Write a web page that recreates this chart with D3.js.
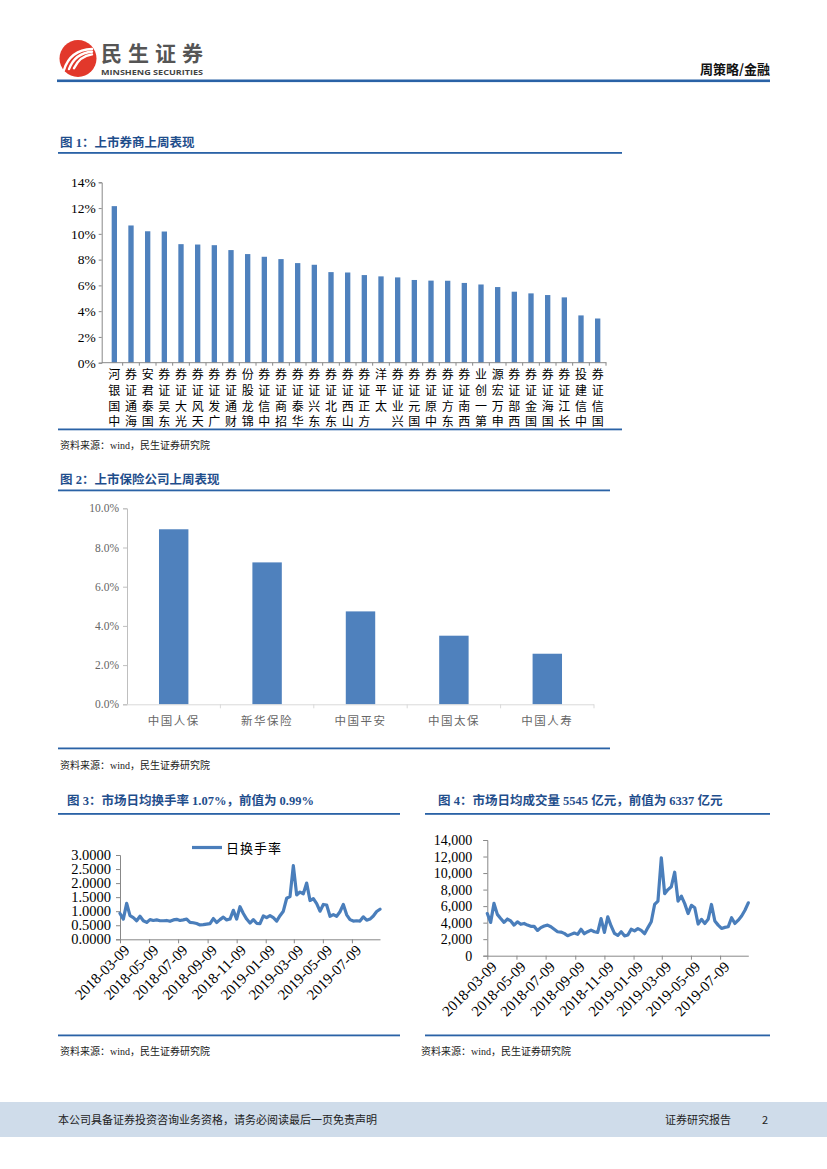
<!DOCTYPE html>
<html>
<head>
<meta charset="utf-8">
<title>周策略/金融</title>
<script src="https://cdn.jsdelivr.net/npm/d3@7"></script>
<style>
  body { margin: 0; background: #fff; }
  svg { display: block; }
  .serif { font-family: "Liberation Serif", "Noto Sans CJK SC", serif; }
  .cjk { font-family: "Noto Sans CJK SC", sans-serif; }
  .vert { writing-mode: vertical-rl; text-orientation: upright; }
</style>
</head>
<body>
<svg id="page" width="827" height="1169"></svg>
<script>
// ---- 数据 ----
// 图1 上市券商上周涨跌幅 (%)
var brokerNames = ["中国银河", "海通证券", "国泰君安", "东吴证券", "光大证券", "天风证券", "广发证券", "财通证券",
  "锦龙股份", "中信证券", "招商证券", "华泰证券", "东兴证券", "东北证券", "山西证券", "方正证券", "太平洋",
  "兴业证券", "国元证券", "中原证券", "东方证券", "西南证券", "第一创业", "申万宏源", "西部证券", "国金证券",
  "国海证券", "长江证券", "中信建投", "国信证券"];
var brokerValues = [12.15, 10.65, 10.2, 10.18, 9.2, 9.17, 9.12, 8.74, 8.43, 8.22, 8.04, 7.73, 7.6, 7.03, 7.0,
  6.8, 6.7, 6.62, 6.42, 6.37, 6.36, 6.19, 6.07, 5.87, 5.51, 5.38, 5.25, 5.07, 3.67, 3.43];
var brokerTicks = [0, 2, 4, 6, 8, 10, 12, 14];

// 图2 上市保险公司上周表现 (%)
var insurerNames = ["中国人保", "新华保险", "中国平安", "中国太保", "中国人寿"];
var insurerValues = [8.93, 7.24, 4.74, 3.5, 2.58];
var insurerTicks = [0, 2, 4, 6, 8, 10];

// 图3/图4 周度数据，起始日期
var weekStart = "2018-03-09";
var weekEnd = "2019-09-06";
var turnover = [0.92, 0.72, 1.28, 0.84, 0.77, 0.66, 0.82, 0.66, 0.60, 0.70,
  0.67, 0.69, 0.66, 0.66, 0.67, 0.64, 0.69, 0.71, 0.67, 0.69,
  0.72, 0.60, 0.59, 0.56, 0.51, 0.52, 0.54, 0.56, 0.74, 0.60,
  0.70, 0.79, 0.69, 0.72, 1.03, 0.72, 1.16, 0.92, 0.72, 0.58,
  0.70, 0.57, 0.56, 0.83, 0.77, 0.84, 0.77, 0.65, 0.84, 1.00,
  1.46, 1.52, 2.62, 1.58, 1.68, 1.62, 2.00, 1.38, 1.45, 1.27,
  1.00, 1.24, 1.22, 0.82, 0.88, 0.82, 0.98, 1.24, 0.87, 0.70,
  0.65, 0.66, 0.65, 0.80, 0.68, 0.72, 0.83, 0.99, 1.07];
var volume = [5100, 4030, 6330, 5000, 4500, 4030, 4440, 4200, 3700, 4100,
  3800, 3900, 3700, 3550, 3550, 3060, 3400, 3600, 3700, 3500,
  3200, 2900, 2860, 2700, 2420, 2580, 2740, 2580, 3200, 2660,
  2900, 3100, 2900, 2820, 4500, 2820, 4700, 3600, 2700, 2450,
  2900, 2400, 2500, 3200, 3000, 3270, 3060, 2660, 3400, 4100,
  6200, 6600, 11850, 7500, 8000, 8350, 10100, 6600, 7200, 6300,
  5100, 6100, 5800, 3830, 4400, 3900, 4400, 6200, 4200, 3700,
  3300, 3430, 3500, 4600, 3900, 4300, 4800, 5500, 6400];
var dateTicks = ["2018-03-09", "2018-05-09", "2018-07-09", "2018-09-09", "2018-11-09",
  "2019-01-09", "2019-03-09", "2019-05-09", "2019-07-09"];
var turnoverTicks = [0, 0.5, 1, 1.5, 2, 2.5, 3];
var volumeTicks = [0, 2000, 4000, 6000, 8000, 10000, 12000, 14000];

var blue = "#4f81bd";
var lineBlue = "#4a7ebb";
var ruleBlue = "#2a62a6";
var titleBlue = "#1f4e8c";

var svg = d3.select("#page");
var parse = d3.timeParse("%Y-%m-%d");
var weekDates = turnover.map(function(d, i) { return d3.timeDay.offset(parse(weekStart), i * 7); });

// ---- 页眉 ----
var logo = svg.append("g");
logo.append("circle").attr("cx", 78).attr("cy", 58.5).attr("r", 18.5).attr("fill", "#e2382b");
[[0, 0], [5, 3], [10, 6]].forEach(function(o) {
  logo.append("path")
    .attr("d", "M" + (64 + o[0]) + "," + (70 - o[1] * 0.3) + " Q" + (70 + o[0]) + "," + (50 + o[1]) + " " + (92) + "," + (49 + o[1] * 0.9))
    .attr("stroke", "#fff").attr("stroke-width", 2.4).attr("fill", "none").attr("stroke-linecap", "round");
});
svg.append("text").attr("class", "cjk").attr("x", 101).attr("y", 60.5)
  .attr("font-size", 21).attr("font-weight", "bold").attr("fill", "#555").attr("textLength", 102)
  .text("民生证券");
svg.append("text").attr("x", 101).attr("y", 75)
  .attr("font-family", "'Open Sans', 'DejaVu Sans', sans-serif").attr("font-size", 7.8)
  .attr("font-weight", "bold").attr("fill", "#444").attr("textLength", 102).attr("lengthAdjust", "spacingAndGlyphs")
  .text("MINSHENG SECURITIES");
svg.append("text").attr("class", "cjk").attr("x", 770).attr("y", 74).attr("text-anchor", "end")
  .attr("font-size", 13).attr("font-weight", "bold").attr("fill", "#111").text("周策略/金融");
svg.append("rect").attr("x", 57).attr("y", 79.5).attr("width", 713).attr("height", 2.6).attr("fill", ruleBlue);

function figTitle(x, y, text) {
  svg.append("text").attr("class", "serif").attr("x", x).attr("y", y)
    .attr("font-size", 12.5).attr("font-weight", "bold").attr("fill", titleBlue).text(text);
}
function rule(x1, x2, y, w) {
  svg.append("rect").attr("x", x1).attr("y", y).attr("width", x2 - x1).attr("height", w || 1.8).attr("fill", ruleBlue);
}
function source(x, y) {
  svg.append("text").attr("class", "serif").attr("x", x).attr("y", y)
    .attr("font-size", 10).attr("fill", "#222").text("资料来源：wind，民生证券研究院");
}

// ---- 图1 ----
figTitle(60, 147, "图 1：上市券商上周表现");
rule(58, 622, 152);
(function() {
  var y = d3.scaleLinear().domain([0, 14]).range([362.7, 182.3]);
  var x = d3.scaleBand().domain(brokerNames).range([106, 606]).paddingInner(0.68).paddingOuter(0.34);
  var g = svg.append("g");
  var yAxis = g.append("g").attr("transform", "translate(101.7,0)")
    .call(d3.axisLeft(y).tickValues(brokerTicks).tickFormat(function(d) { return d + "%"; }).tickSize(3).tickPadding(3));
  yAxis.selectAll("text").attr("class", "serif").attr("font-size", 13.5).attr("fill", "#000");
  yAxis.selectAll("line, path").attr("stroke", "#888");
  g.selectAll("rect.bar").data(brokerValues).enter().append("rect").attr("class", "bar")
    .attr("x", function(d, i) { return x(brokerNames[i]); })
    .attr("y", function(d) { return y(d); })
    .attr("width", x.bandwidth())
    .attr("height", function(d) { return y(0) - y(d); })
    .attr("fill", blue);
  g.append("line").attr("x1", 101.7).attr("x2", 606.5).attr("y1", y(0)).attr("y2", y(0)).attr("stroke", "#888");
  g.selectAll("line.tk").data(brokerNames).enter().append("line").attr("class", "tk")
    .attr("x1", function(d) { return x(d) + x.bandwidth() / 2 + x.step() / 2; })
    .attr("x2", function(d) { return x(d) + x.bandwidth() / 2 + x.step() / 2; })
    .attr("y1", y(0)).attr("y2", y(0) + 3).attr("stroke", "#888");
  // 竖排标签：自下而上读，末字靠近坐标轴
  g.selectAll("text.lab").data(brokerNames).enter().append("text").attr("class", "lab cjk vert")
    .attr("x", function(d) { return x(d) + x.bandwidth() / 2; })
    .attr("y", 368.5)
    .attr("font-size", 12).attr("letter-spacing", 3.8).attr("fill", "#000")
    .text(function(d) { return d.split("").reverse().join(""); });
})();
rule(58, 622, 428.5);
source(60, 449);

// ---- 图2 ----
figTitle(60, 484, "图 2：上市保险公司上周表现");
rule(58, 610, 489.5);
(function() {
  var y = d3.scaleLinear().domain([0, 10]).range([704.3, 508.3]);
  var x = d3.scaleBand().domain(insurerNames).range([127, 594]).paddingInner(0.685).paddingOuter(0.3425);
  var g = svg.append("g");
  var yAxis = g.append("g").attr("transform", "translate(127,0)")
    .call(d3.axisLeft(y).tickValues(insurerTicks).tickFormat(function(d) { return d.toFixed(1) + "%"; }).tickSize(4).tickPadding(4));
  yAxis.selectAll("text").attr("class", "serif").attr("font-size", 11.5).attr("fill", "#666");
  yAxis.selectAll("line, path").attr("stroke", "#bfbfbf");
  g.selectAll("rect.bar").data(insurerValues).enter().append("rect").attr("class", "bar")
    .attr("x", function(d, i) { return x(insurerNames[i]); })
    .attr("y", function(d) { return y(d); })
    .attr("width", x.bandwidth())
    .attr("height", function(d) { return y(0) - y(d); })
    .attr("fill", blue);
  g.append("line").attr("x1", 127).attr("x2", 594).attr("y1", y(0) + 0.5).attr("y2", y(0) + 0.5).attr("stroke", "#d9d9d9");
  g.selectAll("line.tk").data(insurerNames).enter().append("line").attr("class", "tk")
    .attr("x1", function(d) { return x(d) + x.bandwidth() / 2 + x.step() / 2; })
    .attr("x2", function(d) { return x(d) + x.bandwidth() / 2 + x.step() / 2; })
    .attr("y1", y(0)).attr("y2", y(0) + 4).attr("stroke", "#d9d9d9");
  g.selectAll("text.lab").data(insurerNames).enter().append("text").attr("class", "lab cjk")
    .attr("x", function(d) { return x(d) + x.bandwidth() / 2; }).attr("y", 725)
    .attr("text-anchor", "middle").attr("font-size", 11.5).attr("fill", "#666").attr("letter-spacing", 1.5)
    .text(function(d) { return d; });
})();
rule(58, 610, 747.5);
source(60, 769);

// ---- 图3 / 图4 折线 ----
function lineChart(opt) {
  var x = d3.scaleTime().domain([parse(weekStart), parse(weekEnd)]).range([opt.x0, opt.x1]);
  var y = d3.scaleLinear().domain(opt.domain).range([opt.y0, opt.y1]);
  var g = svg.append("g");
  var yAxis = g.append("g").attr("transform", "translate(" + opt.x0 + ",0)")
    .call(d3.axisLeft(y).tickValues(opt.ticks).tickFormat(opt.fmt).tickSize(4).tickPadding(opt.pad));
  yAxis.selectAll("text").attr("class", "serif").attr("font-size", opt.yFont).attr("fill", "#000");
  yAxis.selectAll("line, path").attr("stroke", "#888");
  var xAxis = g.append("g").attr("transform", "translate(0," + opt.y0 + ")")
    .call(d3.axisBottom(x).tickValues(dateTicks.map(parse)).tickFormat(d3.timeFormat("%Y-%m-%d")).tickSize(4).tickSizeOuter(0));
  xAxis.selectAll("line, path").attr("stroke", "#888");
  xAxis.selectAll("text").attr("class", "serif").attr("font-size", 15).attr("fill", "#000")
    .attr("text-anchor", "end").attr("dy", 0)
    .attr("transform", "translate(5,7) rotate(-45)");
  g.append("path").datum(opt.values)
    .attr("fill", "none").attr("stroke", lineBlue).attr("stroke-width", 3.2)
    .attr("stroke-linejoin", "round").attr("stroke-linecap", "round")
    .attr("d", d3.line().x(function(d, i) { return x(weekDates[i]); }).y(function(d) { return y(d); }));
  return g;
}

figTitle(67, 805, "图 3：市场日均换手率 1.07%，前值为 0.99%");
rule(58, 400, 813);
lineChart({ x0: 120, x1: 380, y0: 939.3, y1: 855, domain: [0, 3], ticks: turnoverTicks,
  fmt: d3.format(".4f"), values: turnover, yFont: 14.5, pad: 5 });
svg.append("line").attr("x1", 192).attr("x2", 222).attr("y1", 847.5).attr("y2", 847.5)
  .attr("stroke", lineBlue).attr("stroke-width", 3.2);
svg.append("text").attr("class", "cjk").attr("x", 226).attr("y", 852.5)
  .attr("font-size", 13).attr("fill", "#000").attr("letter-spacing", 1).text("日换手率");
rule(58, 400, 1034.5);
source(60, 1055);

figTitle(438, 805, "图 4：市场日均成交量 5545 亿元，前值为 6337 亿元");
rule(425, 770, 813);
lineChart({ x0: 487.3, x1: 748.3, y0: 955.7, y1: 840, domain: [0, 14000], ticks: volumeTicks,
  fmt: d3.format(","), values: volume, yFont: 14, pad: 11 });
rule(425, 770, 1034.5);
source(421, 1055);

// ---- 页脚 ----
svg.append("rect").attr("x", 0).attr("y", 1102).attr("width", 827).attr("height", 35).attr("fill", "#cfdcea");
svg.append("text").attr("class", "cjk").attr("x", 58).attr("y", 1124).attr("font-size", 11).attr("fill", "#222")
  .text("本公司具备证券投资咨询业务资格，请务必阅读最后一页免责声明");
svg.append("text").attr("class", "cjk").attr("x", 665).attr("y", 1124).attr("font-size", 11).attr("fill", "#222")
  .text("证券研究报告");
svg.append("text").attr("class", "cjk").attr("x", 762).attr("y", 1124).attr("font-size", 11).attr("fill", "#222")
  .text("2");
</script>
</body>
</html>
